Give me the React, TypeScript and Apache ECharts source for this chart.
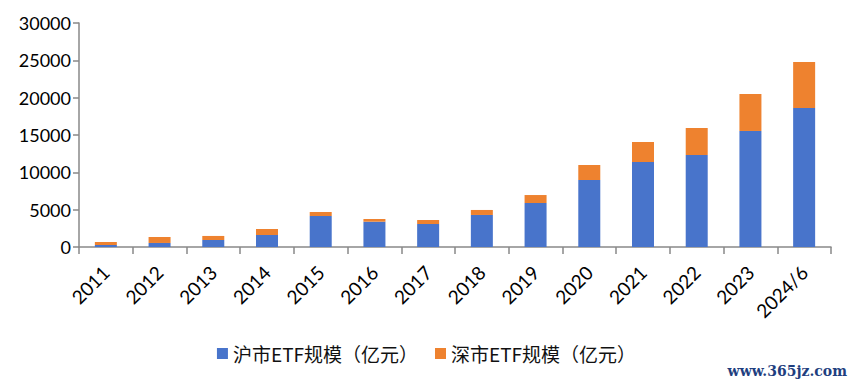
import React, { useEffect, useRef } from "react";
import * as echarts from "echarts";

const categories = ["2011", "2012", "2013", "2014", "2015", "2016", "2017", "2018", "2019", "2020", "2021", "2022", "2023", "2024/6"];
const shValues = [270, 540, 940, 1610, 4150, 3390, 3080, 4290, 5890, 8970, 11380, 12320, 15540, 18620];
const szValues = [400, 800, 540, 800, 535, 360, 535, 670, 1070, 2010, 2680, 3620, 4955, 6160];
const seriesNames = ["沪市ETF规模（亿元）", "深市ETF规模（亿元）"];
const watermark = "www.365jz.com";

export default function App() {
  const ref = useRef<HTMLDivElement>(null);
  useEffect(() => {
    if (!ref.current) return;
    const chart = echarts.init(ref.current, null, { renderer: "svg" });
    const axisColor = "#898989";
    chart.setOption({
      animation: false,
      backgroundColor: "#ffffff",
      grid: { left: 79, right: 22, top: 23, bottom: 140, containLabel: false },
      legend: {
        data: seriesNames,
        bottom: 19,
        left: "center",
        itemWidth: 11,
        itemHeight: 11,
        itemGap: 17,
        icon: "rect",
        textStyle: { fontFamily: "Noto Sans CJK SC", fontSize: 19, color: "#111", padding: [0, 0, 0, 0] },
      },
      xAxis: {
        type: "category",
        data: categories,
        axisLine: { lineStyle: { color: axisColor, width: 1.5 } },
        axisTick: { show: true, alignWithLabel: false, length: 7, lineStyle: { color: axisColor, width: 1.5 } },
        axisLabel: { rotate: 45, margin: 22, fontFamily: "Lato", fontSize: 19, color: "#000", interval: 0 },
      },
      yAxis: {
        type: "value",
        min: 0,
        max: 30000,
        interval: 5000,
        axisLine: { show: true, lineStyle: { color: axisColor, width: 1.5 } },
        axisTick: { show: true, length: 6, lineStyle: { color: axisColor, width: 1.5 } },
        splitLine: { show: false },
        axisLabel: { margin: 8, fontFamily: "Lato", fontSize: 18, color: "#000", formatter: (v: number) => String(v) },
      },
      series: [
        {
          name: seriesNames[0],
          type: "bar",
          stack: "total",
          data: shValues,
          barWidth: 22,
          itemStyle: { color: "#4874CB" },
        },
        {
          name: seriesNames[1],
          type: "bar",
          stack: "total",
          data: szValues,
          barWidth: 22,
          itemStyle: { color: "#EE822F" },
        },
      ],
      graphic: [
        {
          type: "text",
          right: 6,
          top: 364,
          style: {
            text: watermark,
            fontFamily: "DejaVu Serif",
            fontSize: 14,
            fontWeight: "bold",
            fill: "#1f3f7f",
          },
        },
      ],
    });
    return () => chart.dispose();
  }, []);
  return <div ref={ref} style={{ width: 853, height: 387, position: "absolute", left: 0, top: 0 }} />;
}
